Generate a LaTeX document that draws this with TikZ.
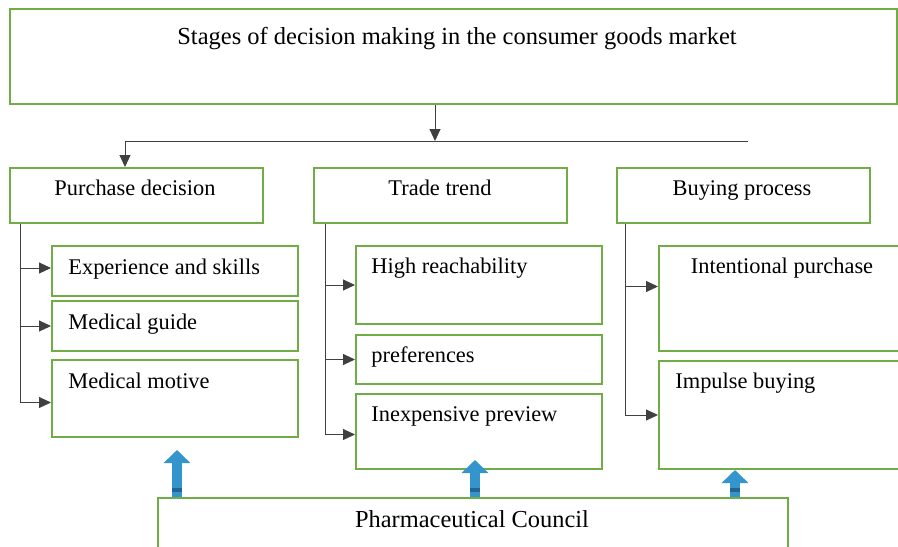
\documentclass[tikz,border=0pt]{standalone}
\usepackage{fontspec}
\setmainfont{Liberation Serif}
\usepackage{xcolor}
\definecolor{boxgreen}{RGB}{112,173,71}
\definecolor{councilblue}{RGB}{52,148,204}
\definecolor{councilband}{RGB}{34,100,148}
\usepackage{tikz}
\usetikzlibrary{calc}
\usetikzlibrary{arrows.meta}
\newcommand{\widthhead}{126.5pt}
\newcommand{\heighthead}{27.5pt}
\newcommand{\widthsub}{123pt}
\tikzset{
    common/.style={anchor=north west, draw=boxgreen, line width=1pt, rectangle, inner sep=0pt},
    head/.style={common, minimum width=\widthhead, minimum height=\heighthead},
    sub/.style={common, minimum width=\widthsub},
    caption/.style={font=\rmfamily\fontsize{11.2}{13}\selectfont, inner sep=0pt},
    link/.style={draw=black!75, line width=0.5pt},
    arr/.style={link, -{Triangle[length=6pt, width=5.5pt]}},
    lift/.style={councilblue, line width=5pt, -{Triangle[length=6.5pt, width=13pt]}},
    band/.style={councilband, line width=5pt}
}
\begin{document}
\begin{tikzpicture}[x=0.5pt, y=-0.5pt]
    \useasboundingbox (0,0) rectangle (898,546);

    % title and the bus below it
    \node[common, minimum width=443.5pt, minimum height=47.5pt] (stages) at (9,8) {};
    \node[caption, font=\rmfamily\fontsize{12.25}{14}\selectfont, anchor=base] at (457,44) {Stages of decision making in the consumer goods market};
    \coordinate (hub) at (435,141);
    \coordinate (busl) at (125,141);
    \coordinate (busr) at (748,141);

    % three stages
    \node[head] (pd) at (9,167) {};
    \node[head] (tt) at (313,167) {};
    \node[head] (bp) at (616,167) {};
    \node[caption, anchor=base] at (135,195) {Purchase decision};
    \node[caption, anchor=base] at (440,195) {Trade trend};
    \node[caption, anchor=base] at (742,195) {Buying process};

    \draw[arr] (stages.south -| hub) -- (hub);
    \draw[link] (busl) -- (busr);
    \draw[arr] (busl) -- (pd.north -| busl);

    % purchase decision
    \node[sub, minimum height=25pt] (es) at (51,245) {};
    \node[sub, minimum height=25pt] (mg) at (51,300) {};
    \node[sub, minimum height=38.5pt] (mm) at (51,359) {};
    \node[caption, anchor=base west] at (68,274) {Experience and skills};
    \node[caption, anchor=base west] at (68,329) {Medical guide};
    \node[caption, anchor=base west] at (68,388) {Medical motive};
    \coordinate (pdl) at (20,0);
    \draw[arr] (pd.south -| pdl) |- ($(mm.west)+(0,4)$);
    \draw[arr] ($(es.west -| pdl)+(0,-3)$) -- ($(es.west)+(0,-3)$);
    \draw[arr] (mg.west -| pdl) -- (mg.west);

    % trade trend
    \node[sub, minimum height=39pt] (hr) at (355,245) {};
    \node[sub, minimum height=24.5pt] (pf) at (355,334) {};
    \node[sub, minimum height=37.5pt] (ip) at (355,393) {};
    \node[caption, anchor=base west] at (371,273) {High reachability};
    \node[caption, anchor=base west] at (371,362) {preferences};
    \node[caption, anchor=base west] at (371,421) {Inexpensive preview};
    \coordinate (ttl) at (325,0);
    \draw[arr] (tt.south -| ttl) |- ($(ip.west)+(0,3)$);
    \draw[arr] (hr.west -| ttl) -- (hr.west);
    \draw[arr] (pf.west -| ttl) -- (pf.west);

    % buying process
    \node[common, minimum width=125pt, minimum height=52.5pt] (in) at (658,245) {};
    \node[common, minimum width=125pt, minimum height=54pt] (ib) at (658,360) {};
    \node[caption, anchor=base] at (782,273) {Intentional purchase};
    \node[caption, anchor=base west] at (675,388) {Impulse buying};
    \coordinate (bpl) at (625,0);
    \draw[arr] (bp.south -| bpl) |- (ib.west);
    \draw[arr] ($(in.west -| bpl)+(0,-12)$) -- ($(in.west)+(0,-12)$);

    % pharmaceutical council
    \node[common, minimum width=315pt, minimum height=40pt] (pc) at (157,497) {};
    \node[caption, font=\rmfamily\fontsize{12.2}{14}\selectfont, anchor=base] at (472,527) {Pharmaceutical Council};
    \coordinate (tipa) at (177,450);
    \coordinate (tipb) at (475,460);
    \coordinate (tipc) at (735,470);
    \foreach \t in {tipa,tipb,tipc}{
        \draw[lift] (pc.north -| \t) -- (\t);
        \draw[band] ($(pc.north -| \t)+(0,-5)$) -- ++(0,-4);
    }
\end{tikzpicture}
\end{document}
